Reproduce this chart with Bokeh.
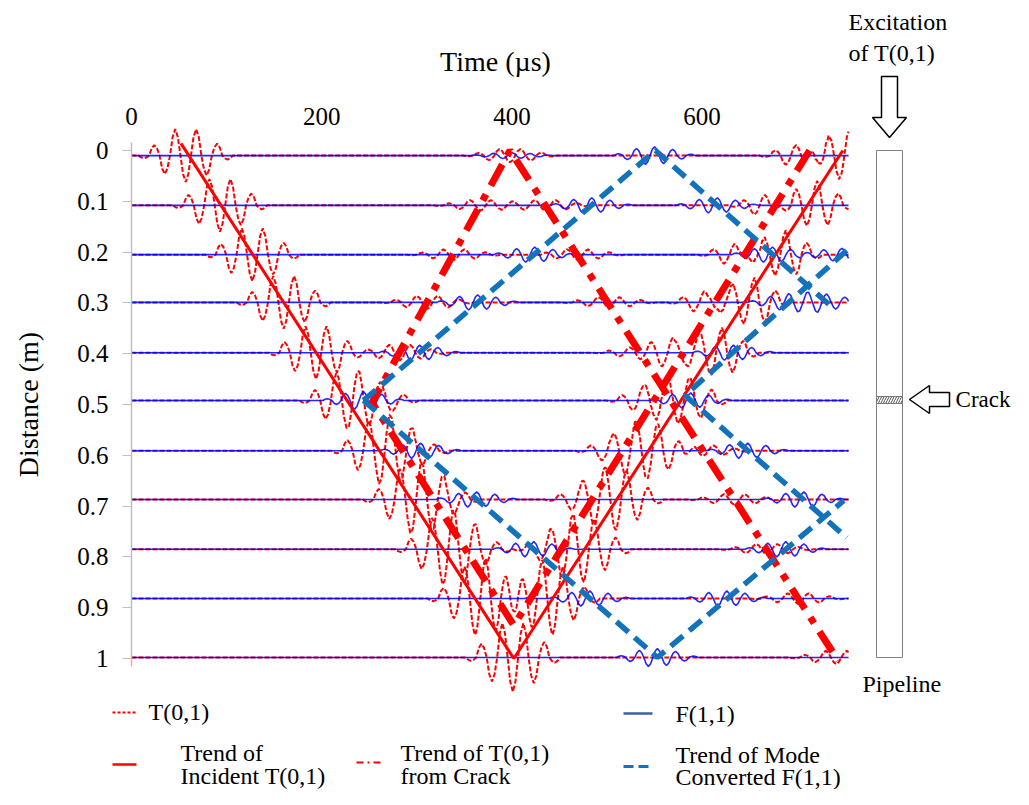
import numpy as np
from bokeh.plotting import figure
from bokeh.models import Range1d, LinearAxis, FixedTicker, NumeralTickFormatter
from bokeh.core.properties import value
from bokeh.embed import file_html
from bokeh.resources import INLINE

# ---------------- values ----------------
time_ticks = [0, 200, 400, 600]
distance_ticks = [0, 0.1, 0.2, 0.3, 0.4, 0.5, 0.6, 0.7, 0.8, 0.9, 1]

# baselines of the 11 recorded traces (m) and record length (µs)
trace_baselines = [0.010, 0.108, 0.205, 0.299, 0.398, 0.492, 0.591, 0.687, 0.785, 0.882, 0.998]
record_end = 754

# tone-burst shapes: peak times (µs from packet centre) and normalised peak values
t01_peak_offsets = [-44, -33, -22, -11, 0, 11, 22, 33, 44]
t01_peak_values = [-0.10, 0.40, -0.70, 1.00, -1.00, 1.00, -0.75, 0.45, -0.15]
f11_peak_offsets = [-38, -28.5, -19, -9.5, 0, 9.5, 19, 28.5, 38]
f11_peak_values = [0.20, -0.45, 0.80, -1.00, 1.00, -0.90, 0.70, -0.40, 0.15]
t01_scale = 0.052   # displayed amplitude of a unit packet (m on the distance axis)
f11_scale = 0.050

# T(0,1) packets per trace: (centre time µs, relative amplitude)
t01_packets = [
    [(57, 1.0), (398, 0.25), (710, 0.5), (744, 1.1)],
    [(93, 1.0), (367, 0.2), (435, 0.2), (677, 0.5), (710, 1.0)],
    [(127, 1.0), (339, 0.2), (469, 0.2), (645, 0.5), (677, 1.0)],
    [(160, 1.0), (311, 0.25), (502, 0.2), (613, 0.5), (644, 1.0)],
    [(194, 1.0), (282, 0.3), (535, 0.2), (580, 0.55), (610, 1.0)],
    [(226, 1.0), (253, 0.5), (568, 0.25), (549, 0.5), (577, 1.0)],
    [(260, 1.0), (285, 0.55), (601, 0.2), (516, 0.5), (543, 1.0)],
    [(293, 1.0), (318, 0.6), (634, 0.2), (484, 0.5), (510, 1.0)],
    [(327, 1.0), (351, 0.6), (668, 0.2), (451, 0.5), (476, 1.0)],
    [(361, 1.0), (384, 0.6), (701, 0.2), (420, 0.55), (443, 1.0)],
    [(401, 1.3), (741, 0.25)],
]
# F(1,1) packets per trace
f11_packets = [
    [(400, 0.12), (550, 0.35)],
    [(484, 0.3), (616, 0.3)],
    [(424, 0.3), (674, 0.3), (747, 0.25)],
    [(364, 0.3), (691, 0.3), (731, 0.3)],
    [(303, 0.3), (633, 0.3)],
    [(244, 0.35), (588, 0.3)],
    [(304, 0.3), (648, 0.3)],
    [(363, 0.3), (707, 0.3)],
    [(423, 0.3), (688, 0.3)],
    [(482, 0.3), (626, 0.3)],
    [(553, 0.35)],
]

# trend lines (time µs, distance m)
incident_t = [52, 402, 748]
incident_d = [-0.014, 1.0, 0.0]
crack_t = [713, 402, 253, 398, 743]
crack_d = [0.0, 0.935, 0.496, 0.0, 1.004]
mode_t = [[244, 551, 737], [244, 553, 749], [752, 582, 752]]
mode_d = [[0.492, 0.0, 0.309], [0.492, 0.998, 0.689], [0.197, 0.482, 0.762]]

# ---------------- page geometry ----------------
W, H = 1013, 789
PX_T, PX_D = 0.951, 508.0     # pixels per µs, pixels per m
X0, Y0 = 131, 150             # canvas position of t=0, d=0


def tx(px):   # canvas pixel -> time
    return (px - X0) / PX_T


def dy(py):   # canvas pixel -> distance
    return (py - Y0) / PX_D


FONT_NAME = "Liberation Serif"
FONT = value(FONT_NAME)

p = figure(width=W, height=H,
           x_range=Range1d(tx(0), tx(W)),
           y_range=Range1d(dy(H), dy(0)),
           output_backend="svg", toolbar_location=None,
           x_axis_location=None, y_axis_location=None, min_border=0)
p.outline_line_color = None
p.background_fill_color = "white"
p.border_fill_color = "white"
p.xgrid.grid_line_color = None
p.ygrid.grid_line_color = None


def burst(offsets, values):
    half = offsets[1] - offsets[0]
    ts, vs = [offsets[0] - half / 2], [0.0]
    for o, v in zip(offsets, values):
        ts += [o - half / 4, o, o + half / 4, o + half / 2]
        vs += [0.7 * v, v, 0.7 * v, 0.0]
    return np.array(ts), np.array(vs)


def trace(base, packets, shape, scale):
    st, sv = shape
    pts = [0.0, float(record_end)]
    for tc, a in packets:
        pts.extend(tc + st)
    t = np.unique(np.clip(pts, 0, record_end))
    y = np.zeros_like(t)
    for tc, a in packets:
        y += a * np.interp(t, tc + st, sv, left=0, right=0)
    return t, base - scale * y


t01_shape = burst(t01_peak_offsets, t01_peak_values)
f11_shape = burst(f11_peak_offsets, f11_peak_values)

red_x, red_y, blue_x, blue_y = [], [], [], []
for b, rp, bp in zip(trace_baselines, t01_packets, f11_packets):
    t, y = trace(b, rp, t01_shape, t01_scale)
    red_x.append(list(t)); red_y.append(list(y))
    t, y = trace(b, bp, f11_shape, f11_scale)
    blue_x.append(list(t)); blue_y.append(list(y))

p.multi_line(red_x, red_y, line_color="#ff0000", line_width=2, line_dash="5 2")
p.multi_line(blue_x, blue_y, line_color="#0000ff", line_width=1.6, line_alpha=0.85)

# trend lines
p.line(incident_t, incident_d, line_color="#ff0000", line_width=3)
p.line(crack_t, crack_d, line_color="#ff0000", line_width=7, line_dash="24 10 7 10")
p.multi_line(mode_t, mode_d, line_color="#1273ba", line_width=5.5, line_dash="16 8")

# axes
yaxis = LinearAxis(fixed_location=0, ticker=FixedTicker(ticks=distance_ticks),
                   formatter=NumeralTickFormatter(format="0.[0]"),
                   bounds=(-0.015, 1.015), axis_label="Distance (m)")
yaxis.axis_line_color = "#bfbfbf"
yaxis.axis_line_width = 1.5
yaxis.major_tick_line_color = "#bfbfbf"
yaxis.major_tick_out = 9
yaxis.major_tick_in = 0
yaxis.minor_tick_line_color = None
yaxis.major_label_standoff = 14
yaxis.major_label_text_font = FONT_NAME
yaxis.major_label_text_font_size = "25px"
yaxis.major_label_text_color = "black"
yaxis.axis_label_text_font = FONT_NAME
yaxis.axis_label_text_font_size = "28px"
yaxis.axis_label_text_font_style = "normal"
yaxis.axis_label_text_color = "black"
yaxis.axis_label_standoff = 30
p.add_layout(yaxis, "left")

xaxis = LinearAxis(fixed_location=-0.02, ticker=FixedTicker(ticks=time_ticks),
                   bounds=(0, 765), axis_label="Time (µs)")
xaxis.axis_line_color = None
xaxis.major_tick_line_color = None
xaxis.minor_tick_line_color = None
xaxis.major_label_standoff = 9
xaxis.major_label_text_font = FONT_NAME
xaxis.major_label_text_font_size = "25px"
xaxis.major_label_text_color = "black"
xaxis.axis_label_text_font = FONT_NAME
xaxis.axis_label_text_font_size = "28px"
xaxis.axis_label_text_font_style = "normal"
xaxis.axis_label_text_color = "black"
xaxis.axis_label_standoff = 29
p.add_layout(xaxis, "above")

# pipeline sketch
p.quad(left=tx(876), right=tx(902), top=dy(150), bottom=dy(657),
       fill_color="white", line_color="#808080", line_width=1)
p.quad(left=tx(876), right=tx(902), top=dy(396), bottom=dy(403),
       fill_color="white", hatch_pattern="/", hatch_color="#555555",
       hatch_scale=5, hatch_weight=1, line_color="#777777", line_width=1)
exc = [(881, 76), (897, 76), (897, 117), (906, 117), (889, 137), (872, 117), (881, 117)]
p.patch([tx(a) for a, b in exc], [dy(b) for a, b in exc],
        fill_color="white", line_color="black", line_width=1.5)
crk = [(909, 399), (929, 385), (929, 392), (949, 392), (949, 406), (929, 406), (929, 413)]
p.patch([tx(a) for a, b in crk], [dy(b) for a, b in crk],
        fill_color="white", line_color="black", line_width=1.5)

side_texts = [("Excitation", 848, 21), ("of T(0,1)", 848, 52), ("Pipeline", 862, 683)]
p.text([tx(a) for _, a, b in side_texts], [dy(b) for _, a, b in side_texts],
       text=[s for s, _, _ in side_texts], text_font=FONT, text_font_size="24px",
       text_baseline="middle", text_align="left", text_color="black")
p.text([tx(1010)], [dy(399)], text=["Crack"], text_font=FONT, text_font_size="23px",
       text_baseline="middle", text_align="right", text_color="black")

# legend
p.line([tx(112), tx(136)], [dy(712), dy(712)], line_color="#ff0000", line_width=2, line_dash="3 2")
p.line([tx(623), tx(652)], [dy(713), dy(713)], line_color="#3d5fa8", line_width=2.5)
p.line([tx(112), tx(136)], [dy(764), dy(764)], line_color="#ff0000", line_width=2.5)
p.line([tx(356), tx(381)], [dy(762), dy(762)], line_color="#ff0000", line_width=2, line_dash="7 4 2 4")
p.line([tx(623), tx(652)], [dy(766), dy(766)], line_color="#1273ba", line_width=3, line_dash="10 5")

legend_texts = [("T(0,1)", 148, 711), ("F(1,1)", 675, 713),
                ("Trend of", 180, 752), ("Incident T(0,1)", 180, 775),
                ("Trend of T(0,1)", 400, 752), ("from Crack", 400, 775),
                ("Trend of Mode", 675, 754), ("Converted F(1,1)", 675, 776)]
p.text([tx(a) for _, a, b in legend_texts], [dy(b) for _, a, b in legend_texts],
       text=[s for s, _, _ in legend_texts], text_font=FONT, text_font_size="24px",
       text_baseline="middle", text_align="left", text_color="black")

open("out.html", "w").write(file_html(p, INLINE))
